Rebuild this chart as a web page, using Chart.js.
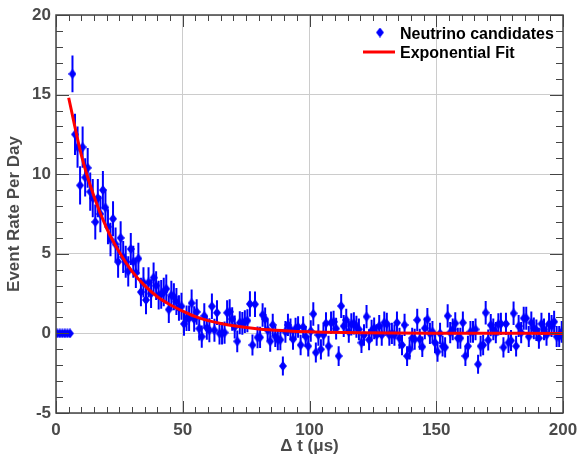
<!DOCTYPE html>
<html>
<head>
<meta charset="utf-8">
<title>Neutrino candidates</title>
<script src="https://cdn.jsdelivr.net/npm/chart.js@4.4.1/dist/chart.umd.min.js"></script>
<style>
  html, body { margin: 0; padding: 0; background: #fff; }
  #plot { display: block; }
</style>
</head>
<body>
<canvas id="plot" width="579" height="458"></canvas>
<script>
// bin centres, 1 us bins
const binCenters = [
  0.5, 1.5, 2.5, 3.5, 4.5, 5.5, 6.5, 7.5, 8.5, 9.5, 10.5, 11.5, 12.5, 13.5, 14.5, 15.5, 16.5, 17.5, 18.5, 19.5,
  20.5, 21.5, 22.5, 23.5, 24.5, 25.5, 26.5, 27.5, 28.5, 29.5, 30.5, 31.5, 32.5, 33.5, 34.5, 35.5, 36.5, 37.5, 38.5, 39.5,
  40.5, 41.5, 42.5, 43.5, 44.5, 45.5, 46.5, 47.5, 48.5, 49.5, 50.5, 51.5, 52.5, 53.5, 54.5, 55.5, 56.5, 57.5, 58.5, 59.5,
  60.5, 61.5, 62.5, 63.5, 64.5, 65.5, 66.5, 67.5, 68.5, 69.5, 70.5, 71.5, 72.5, 73.5, 74.5, 75.5, 76.5, 77.5, 78.5, 79.5,
  80.5, 81.5, 82.5, 83.5, 84.5, 85.5, 86.5, 87.5, 88.5, 89.5, 90.5, 91.5, 92.5, 93.5, 94.5, 95.5, 96.5, 97.5, 98.5, 99.5,
  100.5, 101.5, 102.5, 103.5, 104.5, 105.5, 106.5, 107.5, 108.5, 109.5, 110.5, 111.5, 112.5, 113.5, 114.5, 115.5, 116.5, 117.5, 118.5, 119.5,
  120.5, 121.5, 122.5, 123.5, 124.5, 125.5, 126.5, 127.5, 128.5, 129.5, 130.5, 131.5, 132.5, 133.5, 134.5, 135.5, 136.5, 137.5, 138.5, 139.5,
  140.5, 141.5, 142.5, 143.5, 144.5, 145.5, 146.5, 147.5, 148.5, 149.5, 150.5, 151.5, 152.5, 153.5, 154.5, 155.5, 156.5, 157.5, 158.5, 159.5,
  160.5, 161.5, 162.5, 163.5, 164.5, 165.5, 166.5, 167.5, 168.5, 169.5, 170.5, 171.5, 172.5, 173.5, 174.5, 175.5, 176.5, 177.5, 178.5, 179.5,
  180.5, 181.5, 182.5, 183.5, 184.5, 185.5, 186.5, 187.5, 188.5, 189.5, 190.5, 191.5, 192.5, 193.5, 194.5, 195.5, 196.5, 197.5, 198.5, 199.5
];

// event rate per day in each bin
const eventRates = [
  0, 0, 0, 0, 0, 0, 16.3, 12.5, 11.7, 9.3, 11.7, 9.8, 10.4, 8.9, 8.5, 7.0, 8.5, 7.5, 9.0, 7.9,
  6.7, 5.9, 7.2, 5.6, 4.5, 6.0, 4.8, 4.5, 3.9, 5.3, 4.5, 3.8, 4.7, 2.6, 3.2, 2.1, 3.2, 2.5, 3.5, 3.0,
  2.4, 2.45, 2.6, 2.8, 1.5, 2.4, 2.3, 2.0, 1.6, 1.7, 0.6, 0.95, 0.95, 1.9, 0.9, 1.35, 0.3, -0.2, 1.1, 0.35,
  0.2, 1.7, 0.2, 1.3, 0.0, 0.0, 0.05, 1.3, 1.36, 0.9, 0.4, -0.5, 0.67, 0.63, 0.74, 0.8, 1.85, -0.73, 1.83, -0.25,
  -0.25, 1.16, 0.9, 0.2, -0.5, 0.53, -0.2, -0.4, -0.4, -2.05, 0.1, 0.53, 0.25, -0.37, 0.3, 0.4, -0.73, 0.4, -0.2, -0.8,
  0.15, 1.22, -1.2, -0.1, -1.0, -0.1, 0.63, -0.8, 0.67, 0.73, 0.3, -1.42, 1.72, 0.46, 0.84, 0.1, 0.57, 0.63, 0.42, 0.25,
  -0.58, -0.1, 1.05, -0.4, 0.17, 0.32, -0.1, 0.46, -0.1, 0.67, 0.6, -0.1, 0.0, -0.1, 0.67, -0.3, -0.73, 0.53, -1.42, -1.0,
  -0.3, -0.37, 0.84, -0.37, -0.84, 0.32, 0.88, 0.0, 0.1, -0.58, -1.15, 0.0, -0.8, -0.88, 1.1, 0.05, 0.25, 0.63, -0.3, -0.3,
  0.67, -1.42, -0.8, 0.1, 0.1, 0.25, -1.94, -0.8, -0.73, 1.3, -0.42, 0.52, 0.25, 0.05, 0.57, 0.6, -0.88, 0.6, -0.58, -0.45,
  1.26, -0.8, 0.46, 0.05, 0.95, 0.95, -0.2, 0.67, 0.32, 0.2, -0.3, 0.6, 0.25, -0.1, 0.6, 0.46, 0.73, -0.2, -0.2, 0.1
];

// symmetric error on each bin
const rateErrors = [
  0, 0, 0, 0, 0, 0, 1.15, 1.3, 1.3, 1.2, 1.3, 1.2, 1.25, 1.2, 1.2, 1.1, 1.2, 1.15, 1.2, 1.15,
  1.1, 1.05, 1.1, 1.05, 1.0, 1.05, 1.0, 1.0, 0.95, 1.0, 1.0, 0.95, 1.0, 0.9, 0.95, 0.9, 0.95, 0.9, 0.95, 0.9,
  0.9, 0.9, 0.9, 0.9, 0.85, 0.9, 0.85, 0.85, 0.8, 0.85, 0.75, 0.8, 0.8, 0.85, 0.8, 0.8, 0.75, 0.7, 0.8, 0.75,
  0.75, 0.8, 0.72, 0.78, 0.7, 0.7, 0.7, 0.78, 0.78, 0.74, 0.72, 0.68, 0.72, 0.72, 0.72, 0.72, 0.8, 0.66, 0.8, 0.68,
  0.66, 0.74, 0.72, 0.68, 0.66, 0.7, 0.66, 0.66, 0.66, 0.6, 0.68, 0.7, 0.68, 0.66, 0.68, 0.68, 0.65, 0.68, 0.66, 0.65,
  0.68, 0.74, 0.63, 0.67, 0.64, 0.67, 0.7, 0.65, 0.7, 0.7, 0.68, 0.62, 0.76, 0.69, 0.71, 0.68, 0.7, 0.7, 0.69, 0.68,
  0.65, 0.67, 0.73, 0.66, 0.68, 0.68, 0.67, 0.69, 0.67, 0.7, 0.7, 0.67, 0.67, 0.67, 0.7, 0.66, 0.65, 0.7, 0.62, 0.64,
  0.66, 0.66, 0.71, 0.66, 0.64, 0.68, 0.72, 0.67, 0.68, 0.65, 0.63, 0.67, 0.65, 0.64, 0.73, 0.67, 0.68, 0.7, 0.66, 0.66,
  0.7, 0.62, 0.65, 0.68, 0.68, 0.68, 0.6, 0.65, 0.65, 0.74, 0.66, 0.7, 0.68, 0.67, 0.7, 0.7, 0.64, 0.7, 0.65, 0.66,
  0.74, 0.65, 0.69, 0.67, 0.72, 0.72, 0.66, 0.7, 0.68, 0.68, 0.66, 0.7, 0.68, 0.67, 0.7, 0.69, 0.7, 0.66, 0.66, 0.68
];

// exponential fit curve
const fitTimes = [5, 10, 15, 20, 25, 30, 35, 40, 45, 50, 55, 60, 65, 70, 80, 90, 100, 120, 150, 200];
const fitRates = [14.8, 11.2, 8.6, 6.6, 5.1, 3.9, 3.0, 2.3, 1.8, 1.4, 1.05, 0.8, 0.62, 0.48, 0.28, 0.17, 0.1, 0.04, 0.01, 0.0];

const xTicks = [0, 50, 100, 150, 200];
const yTicks = [-5, 0, 5, 10, 15, 20];

const FONT = '"Liberation Sans", Arial, Helvetica, sans-serif';
const AXIS_GREY = '#4a4a4a';
const BLUE = '#0000ff';

Chart.defaults.font.family = FONT;

// diamond marker like ROOT's style 33
const diamond = document.createElement('canvas');
diamond.width = 8;
diamond.height = 10;
(() => {
  const c = diamond.getContext('2d');
  c.fillStyle = BLUE;
  c.beginPath();
  c.moveTo(4, 0);
  c.lineTo(8, 5);
  c.lineTo(4, 10);
  c.lineTo(0, 5);
  c.closePath();
  c.fill();
})();

const errorBars = {
  id: 'errorBars',
  beforeDatasetsDraw(chart) {
    const { ctx, chartArea: a, scales: { x, y } } = chart;
    ctx.save();
    ctx.beginPath();
    ctx.rect(a.left, a.top, a.width, a.height);
    ctx.clip();
    ctx.strokeStyle = BLUE;
    ctx.lineWidth = 2;
    ctx.beginPath();
    binCenters.forEach((t, i) => {
      const err = rateErrors[i];
      if (!err) return;
      const px = x.getPixelForValue(t);
      ctx.moveTo(px, y.getPixelForValue(eventRates[i] - err));
      ctx.lineTo(px, y.getPixelForValue(eventRates[i] + err));
    });
    ctx.stroke();
    ctx.restore();
  }
};

// frame on all four sides with inward ticks (ROOT look)
const frame = {
  id: 'frame',
  afterDatasetsDraw(chart) {
    const { ctx, chartArea: a, scales: { x, y } } = chart;
    ctx.save();
    ctx.strokeStyle = '#444';
    ctx.lineWidth = 1;
    ctx.beginPath();
    for (let v = x.min; v <= x.max; v += 5) {
      const len = v % 50 === 0 ? 12 : 6;
      const px = Math.round(x.getPixelForValue(v)) + 0.5;
      ctx.moveTo(px, a.bottom);
      ctx.lineTo(px, a.bottom - len);
      ctx.moveTo(px, a.top);
      ctx.lineTo(px, a.top + len);
    }
    for (let v = y.min; v <= y.max; v += 1) {
      const len = v % 5 === 0 ? 13 : 7;
      const py = Math.round(y.getPixelForValue(v)) + 0.5;
      ctx.moveTo(a.left, py);
      ctx.lineTo(a.left + len, py);
      ctx.moveTo(a.right, py);
      ctx.lineTo(a.right - len, py);
    }
    ctx.stroke();
    ctx.lineWidth = 1.5;
    ctx.strokeRect(a.left, a.top, a.width, a.height);
    ctx.restore();
  }
};

const legendBox = {
  id: 'legendBox',
  afterDraw(chart) {
    const { ctx, chartArea: a } = chart;
    const textX = a.right - 163;
    const markX = textX - 20;
    const rows = [a.top + 23.5, a.top + 43];
    ctx.save();
    ctx.font = 'bold 16px ' + FONT;
    ctx.fillStyle = '#000';
    ctx.textAlign = 'left';
    ctx.textBaseline = 'alphabetic';

    ctx.drawImage(diamond, markX - 4, rows[0] - 6 - 5);
    ctx.fillText(chart.data.datasets[1].label, textX, rows[0]);

    ctx.strokeStyle = '#ff0000';
    ctx.lineWidth = 3;
    ctx.beginPath();
    ctx.moveTo(markX - 17, rows[1] - 6);
    ctx.lineTo(markX + 15, rows[1] - 6);
    ctx.stroke();
    ctx.fillText(chart.data.datasets[0].label, textX, rows[1]);
    ctx.restore();
  }
};

new Chart(document.getElementById('plot'), {
  type: 'line',
  data: {
    datasets: [
      {
        label: 'Exponential Fit',
        data: fitTimes.map((t, i) => ({ x: t, y: fitRates[i] })),
        borderColor: '#ff0000',
        borderWidth: 3,
        pointRadius: 0,
        cubicInterpolationMode: 'monotone',
        fill: false,
        order: 0
      },
      {
        label: 'Neutrino candidates',
        data: binCenters.map((t, i) => ({ x: t, y: eventRates[i] })),
        showLine: false,
        pointStyle: diamond,
        pointRadius: 4,
        backgroundColor: BLUE,
        borderColor: BLUE,
        order: 1
      }
    ]
  },
  options: {
    responsive: false,
    animation: false,
    layout: { padding: { top: 15, right: 16, left: 0, bottom: 0 } },
    plugins: {
      legend: { display: false },
      tooltip: { enabled: false }
    },
    scales: {
      x: {
        type: 'linear',
        min: 0,
        max: 200,
        afterBuildTicks: s => { s.ticks = xTicks.map(v => ({ value: v })); },
        afterFit: s => { s.height = 45; s.paddingLeft = 0; s.paddingRight = 0; },
        grid: { color: '#cccccc', lineWidth: 1, drawTicks: false },
        border: { display: false },
        ticks: {
          padding: 7,
          color: AXIS_GREY,
          font: { size: 17, weight: 'bold' },
          maxRotation: 0
        },
        title: {
          display: true,
          text: 'Δ t (μs)',
          color: AXIS_GREY,
          font: { size: 17, weight: 'bold' },
          padding: { top: 0, bottom: 1 }
        }
      },
      y: {
        min: -5,
        max: 20,
        afterBuildTicks: s => { s.ticks = yTicks.map(v => ({ value: v })); },
        afterFit: s => { s.width = 56; s.paddingTop = 0; s.paddingBottom = 0; },
        grid: { color: '#cccccc', lineWidth: 1, drawTicks: false },
        border: { display: false },
        ticks: {
          padding: 5,
          color: AXIS_GREY,
          font: { size: 17, weight: 'bold' }
        },
        title: {
          display: true,
          text: 'Event Rate Per Day',
          color: AXIS_GREY,
          font: { size: 17, weight: 'bold' },
          padding: { top: 4, bottom: 0 }
        }
      }
    }
  },
  plugins: [errorBars, frame, legendBox]
});
</script>
</body>
</html>
